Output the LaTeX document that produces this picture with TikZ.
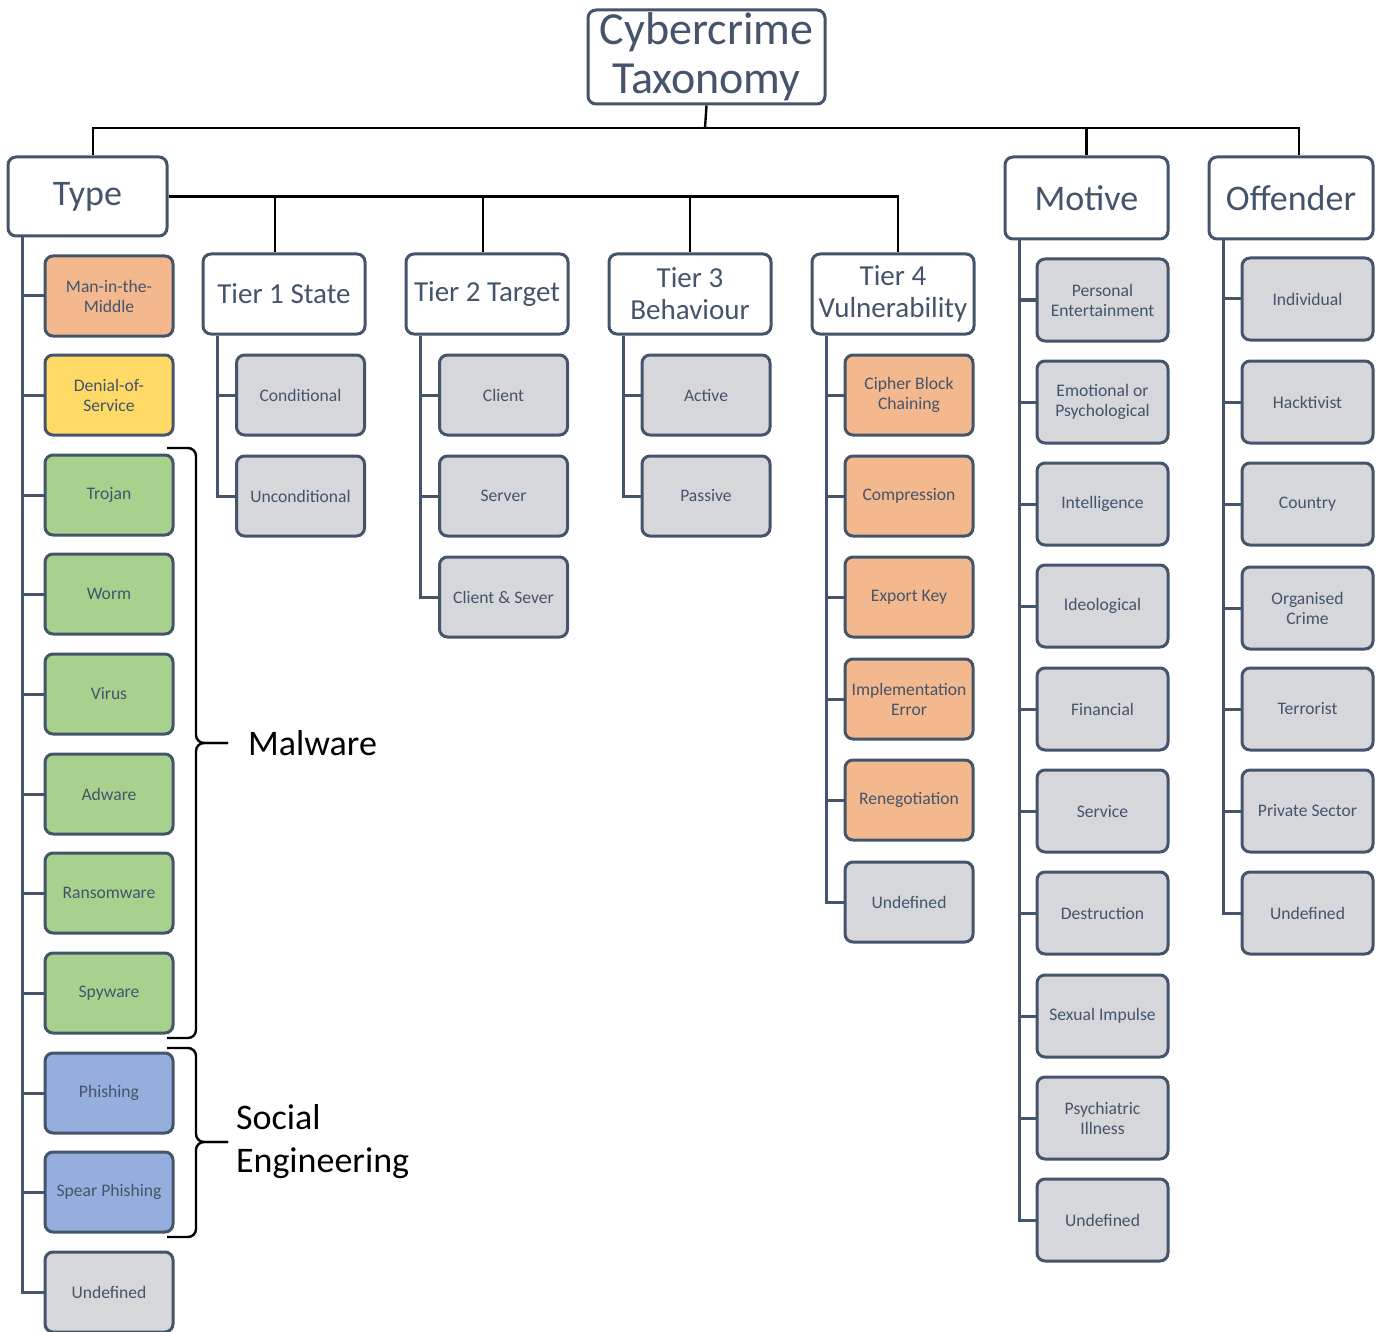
\documentclass[tikz,border=0pt]{standalone}
\usepackage{fontspec}
\setmainfont{Carlito}
\usetikzlibrary{positioning}

\definecolor{slate}{HTML}{44546A}
\definecolor{greybox}{HTML}{D5D7DA}
\definecolor{orangebox}{HTML}{F4B88E}
\definecolor{yellowbox}{HTML}{FFD966}
\definecolor{greenbox}{HTML}{A9D18E}
\definecolor{bluebox}{HTML}{95AEDE}

\tikzset{
  box/.style={draw=slate, line width=1.5pt, rounded corners=4pt, text=slate, align=center,
              inner sep=1pt, font=\fontsize{8.8}{10}\selectfont},
  leaf/.style={box, fill=greybox, minimum width=64pt, minimum height=40pt},
  head/.style={box, fill=white, font=\fontsize{18}{20}\selectfont},
  tier/.style={box, fill=white, minimum width=81pt, minimum height=40pt, font=\fontsize{14.5}{16}\selectfont},
  link/.style={draw=black, line width=1.2pt},
  trunk/.style={draw=slate, line width=1.5pt},
  bracket/.style={draw=black, line width=1.2pt, rounded corners=4pt},
  note/.style={anchor=west, align=left, font=\fontsize{18}{21.5}\selectfont}
}

\begin{document}
\begin{tikzpicture}[x=0.5pt, y=-0.5pt]
  \useasboundingbox (0,0) rectangle (1381,1332);

  % top of the tree
  \node (title) [box, fill=white, minimum width=118.5pt, minimum height=47pt,
                 font=\fontsize{23}{24.5}\selectfont] at (706.5,57) {Cybercrime\\Taxonomy};
  \node (type) [head, minimum width=79.5pt, minimum height=39.5pt] at (87.5,196.5) {Type};
  \node (motive) [head, minimum width=81.5pt, minimum height=41pt] at (1086.5,198) {Motive};
  \node (offender) [head, minimum width=82pt, minimum height=41pt] at (1291,198) {Offender};

  \node (tone) [tier] at (284,294) {Tier 1 State};
  \node (ttwo) [tier] at (487,294) {Tier 2 Target};
  \node (tthree) [tier] at (690,294) {Tier 3\\Behaviour};
  \node (tfour) [tier] at (893,294) {Tier 4\\Vulnerability};

  \coordinate (bus) at (705,128);
  \draw[link] (title.south) -- (bus);
  \draw[link] (bus) -| ([xshift=2.75pt]type.north);
  \draw[link] (bus) -| (motive.north);
  \draw[link] (bus) -| ([xshift=4pt]offender.north);

  \draw[link] (type.east) -| ([xshift=-4.5pt]tone.north);
  \draw[link] (type.east) -| ([xshift=-2pt]ttwo.north);
  \draw[link] (type.east) -| (tthree.north);
  \draw[link] (type.east) -| ([xshift=2.5pt]tfour.north);

  % type
  \foreach \name/\y/\txt/\col in {
      mitm/296/{Man-in-the-\\Middle}/orangebox,
      dos/395/{Denial-of-\\Service}/yellowbox,
      trojan/495/Trojan/greenbox,
      worm/594/Worm/greenbox,
      virus/694/Virus/greenbox,
      adware/794/Adware/greenbox,
      ransom/893/Ransomware/greenbox,
      spy/993/Spyware/greenbox,
      phish/1093/Phishing/bluebox,
      spear/1192/Spear Phishing/bluebox,
      typeundef/1292/Undefined/greybox}
  {
    \node (\name) [leaf, fill=\col] at (109,\y) {\txt};
    \draw[trunk] ([xshift=8pt]type.south west) |- (\name.west);
  }

  % tier 1
  \foreach \name/\y/\txt in {cond/395/Conditional, uncond/496/Unconditional}
  {
    \node (\name) [leaf] at (300.5,\y) {\txt};
    \draw[trunk] ([xshift=8pt]tone.south west) |- (\name.west);
  }

  % tier 2
  \foreach \name/\y/\txt in {client/395/Client, server/496/Server, both/597/Client \& Sever}
  {
    \node (\name) [leaf] at (503.5,\y) {\txt};
    \draw[trunk] ([xshift=8pt]ttwo.south west) |- (\name.west);
  }

  % tier 3
  \foreach \name/\y/\txt in {active/395/Active, passive/496/Passive}
  {
    \node (\name) [leaf] at (706,\y) {\txt};
    \draw[trunk] ([xshift=8pt]tthree.south west) |- (\name.west);
  }

  % tier 4
  \foreach \name/\y/\txt/\col in {
      cbc/395/{Cipher Block\\Chaining}/orangebox,
      compr/496/Compression/orangebox,
      export/597/Export Key/orangebox,
      impl/699/{Implementation\\Error}/orangebox,
      reneg/800/Renegotiation/orangebox,
      vulnundef/902/Undefined/greybox}
  {
    \node (\name) [leaf, fill=\col] at (909,\y) {\txt};
    \draw[trunk] ([xshift=8pt]tfour.south west) |- (\name.west);
  }

  % motive
  \foreach \name/\y/\txt in {
      personal/300/{Personal\\Entertainment},
      emotional/402/{Emotional or\\Psychological},
      intel/504/Intelligence,
      ideo/606/Ideological,
      financial/709/Financial,
      service/811/Service,
      destr/913/Destruction,
      sexual/1016/Sexual Impulse,
      psych/1118/{Psychiatric\\Illness},
      motundef/1220/Undefined}
  {
    \node (\name) [leaf, minimum width=65.5pt, minimum height=41pt] at (1102.5,\y) {\txt};
    \draw[trunk] ([xshift=8pt]motive.south west) |- (\name.west);
  }

  % offender
  \foreach \name/\y/\txt in {
      indiv/299/Individual,
      hack/402/Hacktivist,
      country/504/Country,
      orgcrime/608/{Organised\\Crime},
      terror/709/Terrorist,
      private/811/Private Sector,
      offundef/913/Undefined}
  {
    \node (\name) [leaf, minimum width=65.5pt, minimum height=41pt] at (1307.5,\y) {\txt};
    \draw[trunk] ([xshift=8pt]offender.south west) |- (\name.west);
  }

  % groups of types
  \coordinate (malwaretop) at (167,448);
  \coordinate (malwarebot) at (167,1038);
  \coordinate (malwaretip) at (228,743);
  \draw[bracket] (malwaretop) -- ++(29,0) |- (malwaretip);
  \draw[bracket] (malwarebot) -- ++(29,0) |- (malwaretip);
  \node (malware) [note] at (241,743) {Malware};

  \coordinate (socialtop) at (167,1048);
  \coordinate (socialbot) at (167,1237);
  \coordinate (socialtip) at (228,1142);
  \draw[bracket] (socialtop) -- ++(29,0) |- (socialtip);
  \draw[bracket] (socialbot) -- ++(29,0) |- (socialtip);
  \node (social) [note] at (229,1142) {Social\\Engineering};

\end{tikzpicture}
\end{document}
